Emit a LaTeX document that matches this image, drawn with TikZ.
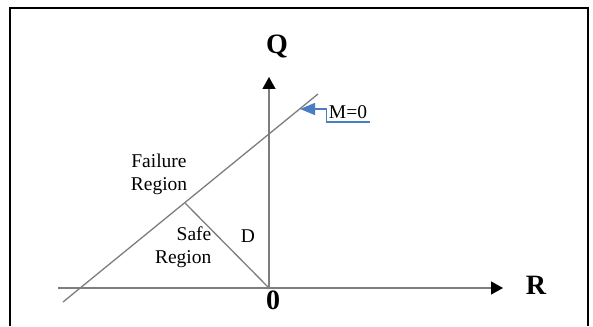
\documentclass[tikz,border=0pt]{standalone}
\usepackage{fontspec}
\setmainfont{Liberation Serif}
\usetikzlibrary{arrows.meta, positioning}
\definecolor{linegray}{RGB}{125,125,125}
\definecolor{markblue}{RGB}{74,126,196}

\begin{document}
\begin{tikzpicture}[x=1pt, y=-1pt, line width=1.3pt,
    axis/.style={draw=linegray, -{Triangle[length=12pt, width=13pt, color=black]}},
    lbl/.style={font=\fontsize{19.5}{23}\selectfont, align=center, inner sep=0pt},
    big/.style={font=\fontsize{28}{30}\selectfont\bfseries, inner sep=0pt}]
    \useasboundingbox (0,0) rectangle (593,326);

    % Frame
    \draw[line width=2pt] (9.5,326) -- (9.5,8) -- (588,8) -- (588,326);

    % Points
    \coordinate (O) at (269,288);
    \coordinate (Rstart) at (58,288);
    \coordinate (Rtip) at (503,288);
    \coordinate (Qtip) at (269,77);
    \coordinate (Mlow) at (63,302);
    \coordinate (Mhigh) at (318,94);
    \coordinate (foot) at (185,203);
    \coordinate (Mtouch) at (300,109);

    % Axes
    \draw[axis] (Rstart) -- (Rtip);
    \draw[axis] (O) -- (Qtip);

    % Limit state line and distance
    \draw[linegray] (Mlow) -- (Mhigh);
    \draw[linegray] (foot) -- (O);

    % Axis labels
    \node[big] (Q) at (277,47) {Q};
    \node[big] (R) at (536,285) {R};
    \node[big] (zero) at (273,300) {0};

    % Region labels
    \node[lbl] (fail) at (159,174) {Failure\\Region};
    \node[lbl, align=right, anchor=east] (safe) at (212,247) {Safe\\Region};
    \node[lbl] (D) at (248,236) {D};

    % M=0 pointer
    \node[lbl, inner xsep=2pt, inner ysep=3pt, anchor=south] (M) at (348,122) {M=0};
    \draw[markblue, -{Triangle[length=15pt, width=12pt]}] (M.south east) -- (M.south west) |- (Mtouch);
\end{tikzpicture}
\end{document}
